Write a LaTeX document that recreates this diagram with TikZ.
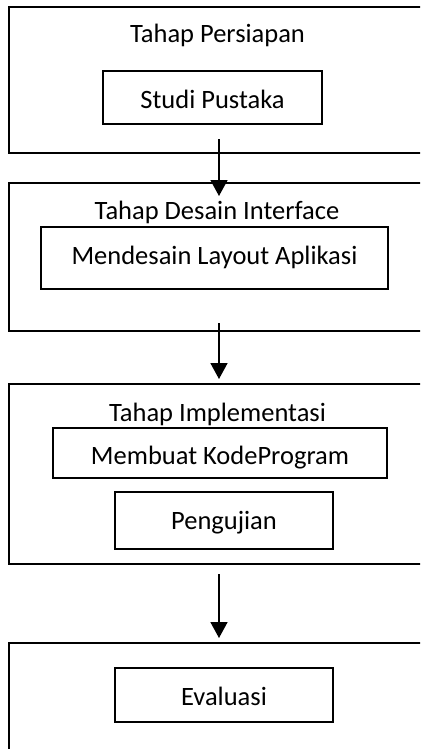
\documentclass[tikz,border=0pt]{standalone}
\usepackage{fontspec}
\setmainfont{Carlito}
\usetikzlibrary{arrows.meta}
\begin{document}
\begin{tikzpicture}[x=1pt,y=-1pt,
  every node/.style={font=\fontsize{26.5}{30}\selectfont, inner sep=0pt, outer sep=0pt},
  outerbox/.style={draw, line width=1.8pt, anchor=north west, minimum width=430pt},
  innerbox/.style={draw, line width=1.5pt},
  bl/.style={text height=#1, text depth=0pt},
  title/.style={anchor=base},
  flow/.style={line width=1.6pt, -{Triangle[length=16pt,width=17pt]}}]
\useasboundingbox (0,0) rectangle (420,749);
\clip (0,0) rectangle (420,749);
% outer stage boxes
\node[outerbox, minimum height=146pt] (b1) at (9,7) {};
\node[outerbox, minimum height=148pt] (b2) at (9,183) {};
\node[outerbox, minimum height=180pt] (b3) at (9,384) {};
\node[outerbox, minimum height=130pt] (b4) at (9,643) {};
% titles
\node[title] (t1) at (217.5,43) {Tahap Persiapan};
\node[title] (t2) at (217,219) {Tahap Desain Interface};
\node[title] (t3) at (217.5,421) {Tahap Implementasi};
% inner boxes
\node[innerbox, minimum width=219pt, minimum height=53pt, bl=23pt] (s1) at (212.5,97.5) {Studi Pustaka};
\node[innerbox, minimum width=347pt, minimum height=62pt, bl=12pt] (s2) at (214.5,258) {Mendesain Layout Aplikasi};
\node[innerbox, minimum width=334pt, minimum height=50pt, bl=22pt] (s3) at (220,453) {Membuat KodeProgram};
\node[innerbox, minimum width=218pt, minimum height=57pt, bl=17pt] (s4) at (224,520.5) {Pengujian};
\node[innerbox, minimum width=218pt, minimum height=54pt, bl=21pt] (s5) at (224,695) {Evaluasi};
% connectors
\coordinate (a1s) at (219,139);
\coordinate (a1e) at (219,196);
\coordinate (a2s) at (219,323);
\coordinate (a2e) at (219,379);
\coordinate (a3s) at (219,574);
\coordinate (a3e) at (219,638);
\draw[flow] (a1s) -- (a1e);
\draw[flow] (a2s) -- (a2e);
\draw[flow] (a3s) -- (a3e);
\end{tikzpicture}
\end{document}
